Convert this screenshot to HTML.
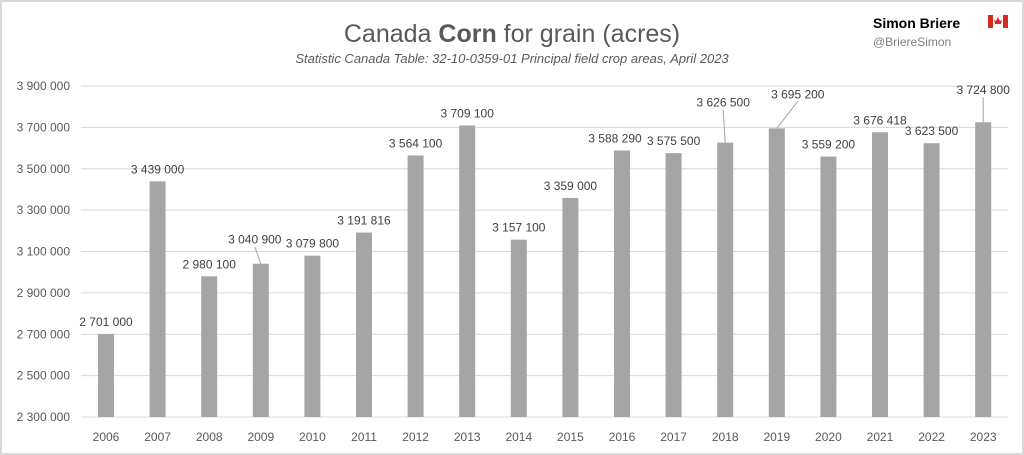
<!DOCTYPE html>
<html><head><meta charset="utf-8"><style>
body{margin:0;background:#fff;}
svg{display:block;font-family:"Liberation Sans",sans-serif;}
</style></head><body>
<svg width="1024" height="455">
<rect x="1" y="1" width="1022" height="453" fill="#fff" stroke="#d9d9d9" stroke-width="2"/>
<text x="512" y="42" text-anchor="middle" font-size="25" fill="#595959">Canada <tspan font-weight="bold">Corn</tspan> for grain (acres)</text>
<text x="512" y="63" text-anchor="middle" font-size="13" font-style="italic" fill="#595959">Statistic Canada Table: 32-10-0359-01 Principal field crop areas, April 2023</text>
<text x="873" y="28" font-size="14" font-weight="bold" fill="#000">Simon Briere</text>
<g><rect x="988" y="15" width="20" height="13" fill="#fff"/><rect x="988" y="15" width="5" height="13" fill="#d52b1e"/><rect x="1003" y="15" width="5" height="13" fill="#d52b1e"/><path d="M998 17 l2 4 l2 -1 l-1 4 h-6 l-1 -4 l2 1z" fill="#d52b1e"/></g>
<text x="873" y="46" font-size="12" fill="#7f7f7f">@BriereSimon</text>
<g id="grid"></g><g id="bars"></g>
</svg>
<script>
const years=["2006","2007","2008","2009","2010","2011","2012","2013","2014","2015","2016","2017","2018","2019","2020","2021","2022","2023"];
const values=[2701000,3439000,2980100,3040900,3079800,3191816,3564100,3709100,3157100,3359000,3588290,3575500,3626500,3695200,3559200,3676418,3623500,3724800];
const ticks=[2300000,2500000,2700000,2900000,3100000,3300000,3500000,3700000,3900000];
const labelDx=[0,0,0,-6,0,0,0,0,0,0,-7,0,-2,21,0,0,0,0];
const labelDy=[0,0,0,-12,0,0,0,0,0,0,0,0,-28,-22,0,0,0,-20];
const NS="http://www.w3.org/2000/svg";
const y=v=>417-(v-2300000)/1600000*331;
const x=i=>106+i*51.6;
const fmt=v=>String(v).replace(/\B(?=(\d{3})+(?!\d))/g," ");
function mk(t,a,p){const e=document.createElementNS(NS,t);for(const k in a)e.setAttribute(k,a[k]);p.appendChild(e);return e;}
const g=document.getElementById("grid"),b=document.getElementById("bars");
ticks.forEach(t=>{
 const l=mk("line",{x1:81,x2:1008,y1:y(t),y2:y(t),stroke:"#d9d9d9"},g);
 
 
 const tx=mk("text",{x:70,y:y(t)+4,"text-anchor":"end","font-size":12,fill:"#595959"},g);
 tx.textContent=fmt(t);
 
 
});
values.forEach((v,i)=>{
 const r=mk("rect",{x:x(i)-8,y:y(v),width:16,height:417-y(v),fill:"#a5a5a5"},b);
 
 
 const xl=mk("text",{x:x(i),y:441,"text-anchor":"middle","font-size":12,fill:"#595959"},b);
 xl.textContent=years[i];
 
 
 const lx=x(i)+labelDx[i],ly=y(v)-8+labelDy[i];
 if(labelDy[i]!==0){
  const ln=mk("line",{x1:x(i),y1:y(v),x2:lx,y2:ly+3,stroke:"#a5a5a5"},b);
  
  
 }
 const dl=mk("text",{x:lx,y:ly,"text-anchor":"middle","font-size":12,fill:"#404040"},b);
 dl.textContent=fmt(v);
 
 
});
</script>
</body></html>
